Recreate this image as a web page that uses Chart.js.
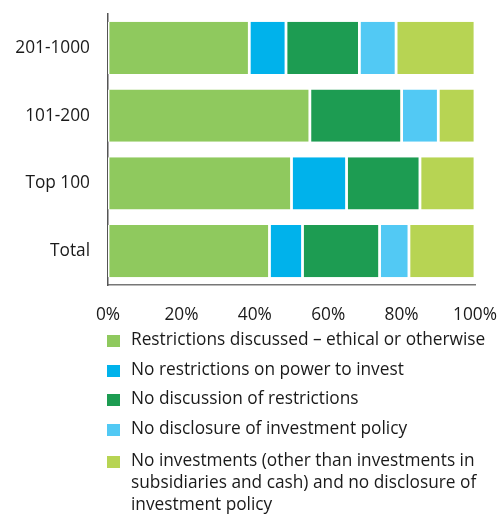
<!DOCTYPE html>
<html>
<head>
<meta charset="utf-8">
<script src="https://cdn.jsdelivr.net/npm/chart.js@4"></script>
<style>
  body { margin: 0; background: #fff; font-family: "Open Sans", sans-serif; color: #1a1a1a; }
  #wrap { position: relative; width: 500px; height: 330px; }
  #legend { position: absolute; left: 107px; top: 328px; width: 392px; }
  .item { display: flex; align-items: flex-start; margin-bottom: 7.5px; font-size: 17.3px; line-height: 22px; }
  .item:last-child { margin-top: 10.5px; }
  .box { width: 13px; height: 12px; margin-top: 7px; margin-right: 11px; flex: none; }
</style>
</head>
<body>
<div id="wrap"><canvas id="bars"></canvas></div>
<div id="legend"></div>
<script>
document.addEventListener('DOMContentLoaded', () => {
    const categories = ['201-1000', '101-200', 'Top 100', 'Total'];
    const seriesNames = [
        'Restrictions discussed \u2013 ethical or otherwise',
        'No restrictions on power to invest',
        'No discussion of restrictions',
        'No disclosure of investment policy',
        'No investments (other than investments in subsidiaries and cash) and no disclosure of investment policy'
    ];
    const restrictionsDiscussed = [38.5, 55, 50, 44];
    const noRestrictions = [10, 0, 15, 9];
    const noDiscussion = [20, 25, 20, 21];
    const noDisclosure = [10, 10, 0, 8];
    const noInvestments = [21.5, 10, 15, 18];
    const xTicks = [0, 20, 40, 60, 80, 100];

    const colors = ['#8fc95e', '#00b2eb', '#1d9c52', '#52c9f4', '#b7d453'];
    const values = [restrictionsDiscussed, noRestrictions, noDiscussion, noDisclosure, noInvestments];

    const datasets = values.map((v, i) => ({
        label: seriesNames[i],
        data: v,
        backgroundColor: colors[i],
        borderColor: '#ffffff',
        borderWidth: {left: 1.4, right: 1.4, top: 0, bottom: 0},
        borderSkipped: false,
        categoryPercentage: 1,
        barPercentage: 0.77
    }));

    const tickFont = {family: 'Open Sans', size: 17.3};

    const ctx = document.getElementById('bars').getContext('2d');
    new Chart(ctx, {
        type: 'bar',
        data: {labels: categories, datasets: datasets},
        options: {
            indexAxis: 'y',
            responsive: true,
            maintainAspectRatio: false,
            animation: false,
            layout: {padding: {top: 14, right: 25, left: 0, bottom: 0}},
            plugins: {legend: {display: false}, tooltip: {enabled: false}},
            scales: {
                x: {
                    stacked: true,
                    min: 0,
                    max: 100,
                    afterBuildTicks: scale => { scale.ticks = xTicks.map(v => ({value: v})); },
                    afterFit: scale => {
                        scale.height = 45;
                        scale.paddingLeft = 0;
                        scale.paddingRight = 0;
                    },
                    grid: {display: false, drawTicks: false},
                    border: {color: '#777', width: 1.5},
                    ticks: {
                        padding: 20,
                        color: '#1a1a1a',
                        font: tickFont,
                        callback: v => v + '%'
                    }
                },
                y: {
                    stacked: true,
                    afterFit: scale => {
                        scale.width = 108;
                        scale.paddingTop = 0;
                        scale.paddingBottom = 0;
                    },
                    grid: {display: false, drawTicks: false},
                    border: {color: '#555', width: 1.5},
                    ticks: {
                        padding: 18,
                        color: '#1a1a1a',
                        font: tickFont
                    }
                }
            }
        }
    });

    // legend under the chart, long labels wrap
    const legend = document.getElementById('legend');
    seriesNames.forEach((name, i) => {
        const item = document.createElement('div');
        item.className = 'item';
        const box = document.createElement('span');
        box.className = 'box';
        box.style.background = colors[i];
        const text = document.createElement('span');
        text.textContent = name;
        item.appendChild(box);
        item.appendChild(text);
        legend.appendChild(item);
    });
});
</script>
</body>
</html>
